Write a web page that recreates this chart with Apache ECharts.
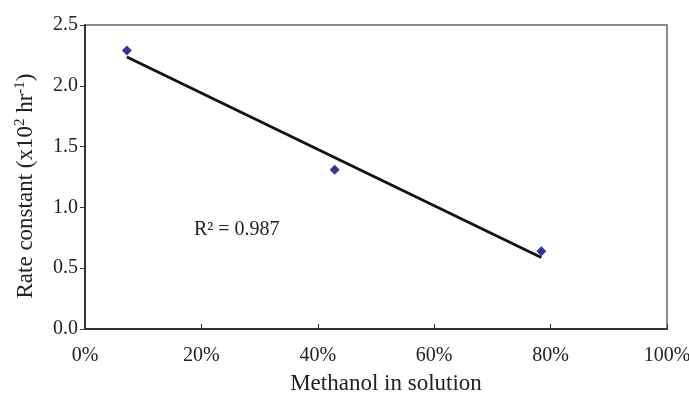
<!DOCTYPE html>
<html><head><meta charset="utf-8">
<script src="https://cdn.jsdelivr.net/npm/echarts@6/dist/echarts.min.js"></script>
<style>html,body{margin:0;padding:0;background:#fff}#c{width:689px;height:394px}</style>
</head><body><div id="c"></div>
<script>
const methanolPct = [7.2, 42.9, 78.4];
const rateConst = [2.29, 1.31, 0.64];
const trendX = [7.2, 78.4];
const trendY = [2.236, 0.588];
const xTicks = [0, 20, 40, 60, 80, 100];
const yTicks = [0, 0.5, 1.0, 1.5, 2.0, 2.5];
const r2Text = 'R² = 0.987';

const font = 'Liberation Serif';
const chart = echarts.init(document.getElementById('c'));
chart.setOption({
  animation: false,
  grid: {left: 85, right: 22, top: 25, bottom: 65, show: true, borderColor: '#666', borderWidth: 1.5, backgroundColor: '#fff', outerBoundsMode: 'none', containLabel: false},
  xAxis: {
    type: 'value', min: 0, max: 100, interval: 20,
    name: 'Methanol in solution', nameLocation: 'middle', nameGap: 43,
    nameTextStyle: {fontFamily: font, fontSize: 23, color: '#222', padding: [0, 0, 0, 20]},
    axisLine: {lineStyle: {color: '#333', width: 2}},
    axisTick: {inside: true, length: 5, lineStyle: {color: '#333'}},
    splitLine: {show: false},
    axisLabel: {formatter: v => v + '%', fontFamily: font, fontSize: 20, color: '#222', margin: 17}
  },
  yAxis: {
    type: 'value', min: 0, max: 2.5, interval: 0.5,
    name: 'Rate constant (x10{sup|2} hr{sup|-1})', nameLocation: 'middle', nameGap: 47,
    nameTextStyle: {fontFamily: font, fontSize: 23, color: '#222', padding: [0, 18, 0, 0],
      rich: {sup: {fontFamily: font, fontSize: 15, color: '#222', verticalAlign: 'top', padding: [0,0,10,0]}}},
    axisLine: {show: true, lineStyle: {color: '#333', width: 2}},
    axisTick: {show: true, inside: false, length: 5, lineStyle: {color: '#333'}},
    splitLine: {show: false},
    axisLabel: {formatter: v => v.toFixed(1), fontFamily: font, fontSize: 20, color: '#222', margin: 7}
  },
  series: [
    {type: 'line', data: trendX.map((x, i) => [x, trendY[i]]), symbol: 'none',
      lineStyle: {color: '#111', width: 2.8}, z: 2},
    {type: 'scatter', data: methanolPct.map((x, i) => [x, rateConst[i]]), symbol: 'diamond', symbolSize: 10,
      itemStyle: {color: '#000088'}, z: 3}
  ],
  graphic: [{type: 'text', left: 194, top: 220, style: {text: r2Text, fontFamily: font, fontSize: 20, fill: '#222'}}]
});
</script></body></html>
